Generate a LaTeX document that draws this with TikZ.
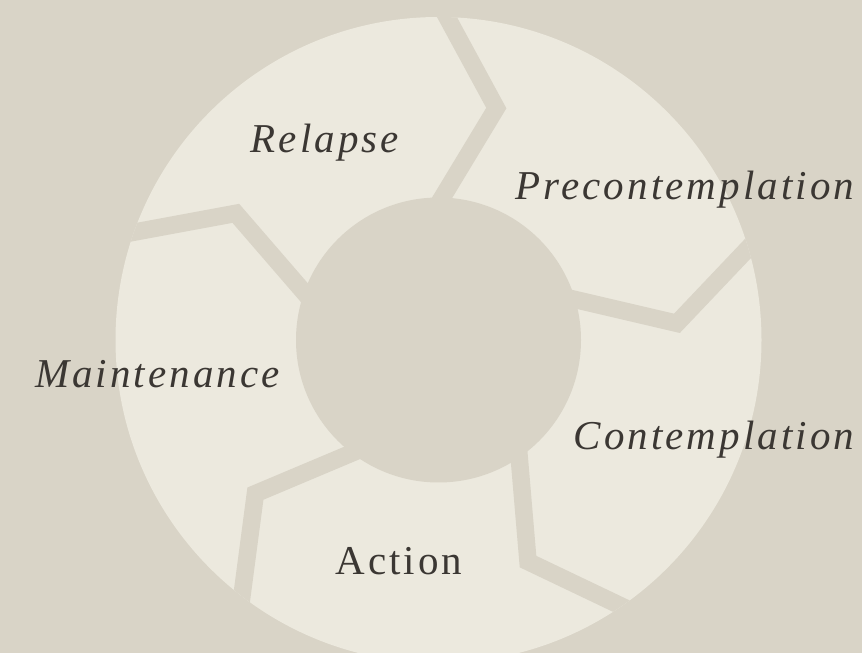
\documentclass[tikz,border=0pt]{standalone}
\usepackage{fontspec}
\setmainfont{Liberation Serif}
\newfontfamily\stagefont{Liberation Serif}[LetterSpace=7.5]
\usetikzlibrary{calc}
\definecolor{paper}{HTML}{D9D4C7}
\definecolor{ring}{HTML}{ECE9DE}
\definecolor{ink}{HTML}{3B3733}

\begin{document}
\begin{tikzpicture}[x=1pt,y=1pt,
  stage/.style={anchor=base,inner sep=0pt,text=ink,font=\stagefont\fontsize{41}{49}\selectfont}]
  \fill[paper] (0,0) rectangle (862,653);
  \useasboundingbox (0,0) rectangle (862,653);
  \begin{scope}[shift={(438.5,313)}]
    \fill[ring] (0,0) circle [radius=323];
    \clip (0,0) circle [radius=323];
    % chevron gaps between the stages
    \foreach \a in {88.5,16.5,-55.5,-127.5,-199.5}
      \draw[paper,line width=17.5,miter limit=10]
        ($(\a-12.5:239)!1.3!(\a:142.5)$) -- (\a-12.5:239) -- ($(\a-12.5:239)!1.3!(\a:323)$);
    \fill[paper] (0,0) circle [radius=142.5];
  \end{scope}
  \node[stage] (relapse) at (325,500) {\itshape Relapse};
  \node[stage] (precon) at (685,453) {\itshape Precontemplation};
  \node[stage] (contem) at (714,203) {\itshape Contemplation};
  \node[stage] (action) at (399,78) {Action};
  \node[stage] (maint) at (157.5,265) {\itshape Maintenance};
\end{tikzpicture}
\end{document}
